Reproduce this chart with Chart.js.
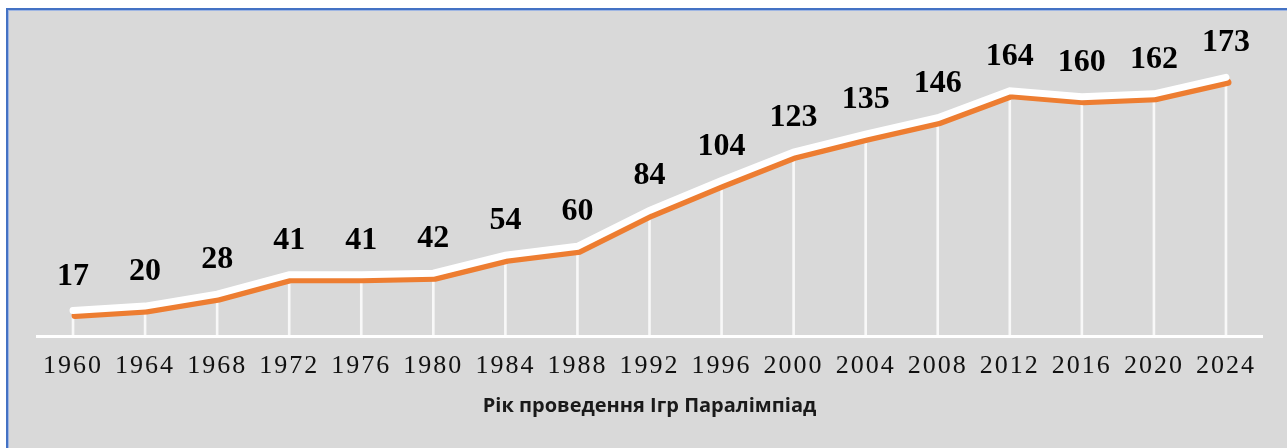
<!DOCTYPE html>
<html>
<head>
<meta charset="utf-8">
<script src="https://cdn.jsdelivr.net/npm/chart.js@4.4.1/dist/chart.umd.min.js"></script>
<style>
  html, body { margin: 0; padding: 0; background: #fff; overflow: hidden; }
  .frame {
    position: absolute; left: 6px; top: 8px; width: 1320px; height: 480px;
    background: #d9d9d9;
    border-left: 2px solid #4472c4; border-top: 2px solid #4472c4;
    box-shadow: inset 1px 1px 0 #9fb6e3;
  }
  #chart { position: absolute; left: 0; top: 0; }
</style>
</head>
<body>
<div class="frame"></div>
<canvas id="chart" width="1287" height="448"></canvas>
<script>
/* ─── DATA ───────────────────────────────────────────── */
const years   = ["1960","1964","1968","1972","1976","1980","1984","1988","1992",
                 "1996","2000","2004","2008","2012","2016","2020","2024"];
const events  = [17, 20, 28, 41, 41, 42, 54, 60, 84, 104, 123, 135, 146, 164, 160, 162, 173];
const axisTitle = "Рік проведення Ігр Паралімпіад";

/* ─── PLUGIN: shadow, labels, tick spacing ───────────── */
const decor = {
  id: "decor",
  beforeDatasetDraw(chart, args) {
    if (args.index !== 1) return;
    const ctx = chart.ctx;
    ctx.save();
    ctx.shadowColor = "#ed7d31";
    ctx.shadowOffsetX = 2;
    ctx.shadowOffsetY = 5;
    ctx.shadowBlur = 0;
  },
  afterDatasetDraw(chart, args) {
    if (args.index !== 1) return;
    chart.ctx.restore();
  },
  afterDatasetsDraw(chart) {
    const ctx  = chart.ctx;
    const meta = chart.getDatasetMeta(1);
    ctx.save();
    ctx.font = "bold 32px 'Liberation Serif'";
    ctx.fillStyle = "#000";
    ctx.textAlign = "center";
    ctx.textBaseline = "alphabetic";
    meta.data.forEach((pt, i) => {
      ctx.fillText(String(events[i]), pt.x, pt.y - 26);
    });
    ctx.restore();
    // tick labels (z: 1) are drawn after this point
    ctx.letterSpacing = "2px";
  },
  afterDraw(chart) {
    chart.ctx.letterSpacing = "0px";
  }
};

/* ─── CHART ──────────────────────────────────────────── */
new Chart(document.getElementById("chart"), {
  data: {
    labels: years,
    datasets: [
      {
        type: "bar",
        data: events,
        backgroundColor: "rgba(255,255,255,0.8)",
        barThickness: 2,
        order: 2,
      },
      {
        type: "line",
        data: events,
        borderColor: "#ffffff",
        borderWidth: 7,
        borderCapStyle: "round",
        borderJoinStyle: "miter",
        pointRadius: 0,
        tension: 0,
        clip: false,
        order: 1,
      },
    ],
  },
  plugins: [decor],
  options: {
    responsive: false,
    devicePixelRatio: 1,
    animation: false,
    layout: { padding: { left: 37, right: 25, top: 37, bottom: 0 } },
    plugins: {
      legend: { display: false },
      tooltip: { enabled: false },
    },
    scales: {
      x: {
        offset: true,
        grid: { display: false, drawTicks: false },
        border: { display: true, color: "#ffffff", width: 3 },
        ticks: {
          z: 1,
          autoSkip: false,
          maxRotation: 0,
          padding: 15,
          color: "#111",
          font: { family: "'Liberation Serif'", size: 26 },
        },
        title: {
          display: true,
          text: axisTitle,
          color: "#1a1a1a",
          font: { family: "'Open Sans'", size: 20, weight: "bold" },
          padding: { top: 0, bottom: 30 },
        },
        afterFit(scale) { scale.height = 112; },
      },
      y: {
        display: false,
        min: 0,
        max: 200,
      },
    },
  },
});
</script>
</body>
</html>
